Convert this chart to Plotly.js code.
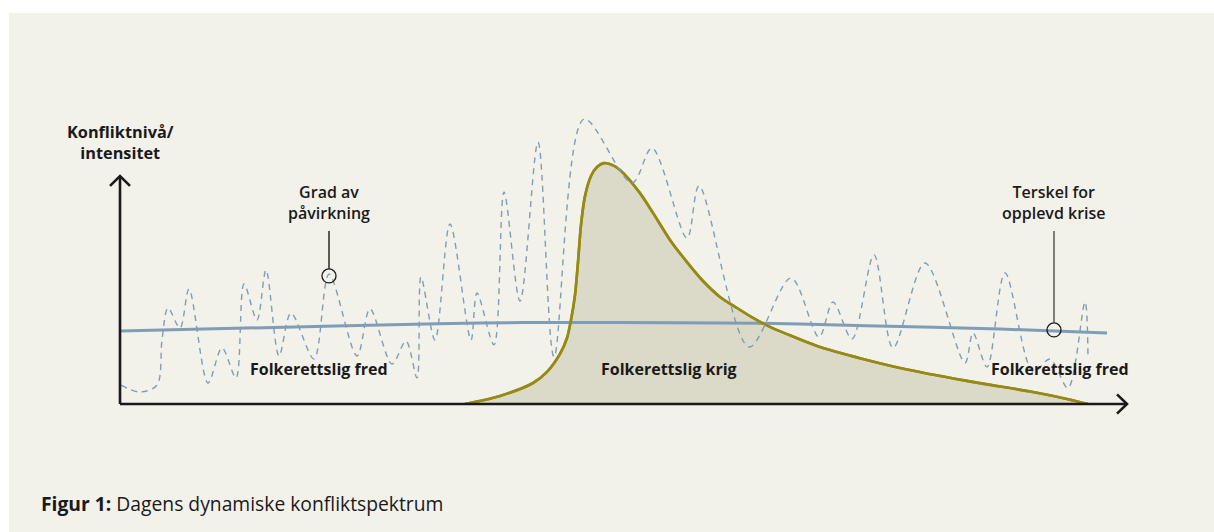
<!DOCTYPE html>
<html>
<head>
<meta charset="utf-8">
<script src="https://cdn.plot.ly/plotly-3.0.1.min.js"></script>
<style>
  html, body { margin: 0; padding: 0; background: #ffffff; }
  #chart { width: 1214px; height: 532px; }
</style>
</head>
<body>
<div id="chart"></div>
<script>
// ---- Data (conceptual time axis 0-100, intensity 0-100) ----
// Dashed line: "Grad av påvirkning" (degree of influence)
const influenceX = [0.1, 2.0, 3.7, 4.2, 4.8, 6.0, 6.9, 8.8, 10.2, 11.6, 12.4, 13.7, 14.6, 15.9, 17.1, 19.4, 20.9,
  23.7, 25.0, 27.2, 28.6, 29.7, 30.1, 31.5, 33.0, 35.1, 35.7, 37.4, 38.4, 40.0, 41.8, 43.4, 46.4, 51.2, 53.2,
  56.7, 57.9, 62.9, 67.1, 69.9, 71.3, 73.2, 75.4, 77.3, 80.5, 84.5, 85.3, 86.7, 88.5, 91.3, 93.0, 94.8, 96.5, 96.8];
const influenceY = [6.3, 4.0, 6.3, 21.3, 32.0, 25.3, 38.3, 7.0, 18.7, 8.7, 40.0, 28.0, 44.7, 16.0, 30.3, 15.0, 43.3,
  16.0, 31.7, 13.3, 21.0, 8.7, 42.3, 21.3, 60.0, 21.3, 37.0, 19.7, 70.7, 34.3, 87.3, 15.7, 95.0, 73.7, 85.3,
  55.3, 72.7, 19.0, 42.0, 22.3, 34.0, 21.7, 49.7, 18.7, 47.0, 13.7, 23.7, 12.3, 43.7, 10.7, 15.0, 5.3, 34.0, 15.3];

// Solid line: "Terskel for opplevd krise" (threshold for perceived crisis)
const thresholdX = [0, 21.5, 36, 50, 60, 68, 78, 88, 98.7];
const thresholdY = [24.3, 26.0, 27.0, 27.2, 27.0, 26.7, 25.8, 25.0, 23.7];

// Olive area: "Folkerettslig krig" (war under international law)
const warX = [34.5, 38.0, 41.3, 42.7, 44.0, 44.7, 45.1, 45.5, 45.8, 46.1, 46.5, 47.1, 47.7, 48.4, 49.2, 50.0,
  52.0, 53.3, 55.0, 56.7, 58.3, 60.0, 61.7, 63.3, 65.0, 66.7, 70.0, 74.3, 78.0, 84.7, 91.3, 94.7, 96.8];
const warY = [0, 2.7, 7.0, 10.7, 16.7, 22.0, 28.0, 36.3, 47.3, 59.7, 69.3, 76.0, 79.0, 80.3, 79.7, 78.0,
  70.3, 63.7, 54.7, 47.3, 41.0, 35.7, 32.0, 28.7, 25.7, 23.3, 19.0, 15.0, 12.0, 7.7, 4.0, 1.7, 0];

// Callout markers (on the lines) and texts
const calloutLabels = ["Grad av<br>påvirkning", "Terskel for<br>opplevd krise"];
const calloutX = [20.9, 93.4];
const calloutY = [42.7, 24.7];
const zoneLabels = ["Folkerettslig fred", "Folkerettslig krig", "Folkerettslig fred"];
const zoneX = [19.9, 54.9, 94.0];
const zoneY = 11.7;
const yAxisLabel = "Konfliktnivå/<br>intensitet";
const caption = "<b>Figur 1:</b> Dagens dynamiske konfliktspektrum";

// ---- Styles ----
const BG = '#f2f1ea';
const OLIVE = '#968a14';
const OLIVE_FILL = '#dbd9c7';
const BLUE = '#7f9db6';
const INK = '#1a1a1a';
const FONT = '"Open Sans", Lato, sans-serif';

const traces = [
  { x: warX, y: warY, type: 'scatter', mode: 'lines', fill: 'tozeroy', fillcolor: OLIVE_FILL,
    line: { color: OLIVE, width: 2.6, shape: 'spline', smoothing: 0.8 }, hoverinfo: 'skip' },
  { x: thresholdX, y: thresholdY, type: 'scatter', mode: 'lines',
    line: { color: BLUE, width: 3, shape: 'spline' }, hoverinfo: 'skip' },
  { x: warX, y: warY, type: 'scatter', mode: 'lines',
    line: { color: OLIVE, width: 2.6, shape: 'spline', smoothing: 0.8 }, hoverinfo: 'skip' },
  { x: influenceX, y: influenceY, type: 'scatter', mode: 'lines',
    line: { color: BLUE, width: 1.4, shape: 'spline', smoothing: 0.9, dash: '6px,5px' }, hoverinfo: 'skip' }
];

const shapes = [
  // beige panel
  { type: 'rect', xref: 'paper', yref: 'paper', x0: -0.111, x1: 1.2, y0: -0.6, y1: 1.303,
    fillcolor: BG, line: { width: 0 }, layer: 'below' },
  // x axis with arrow
  { type: 'line', xref: 'paper', yref: 'paper', x0: 0, x1: 1.007, y0: 0, y1: 0,
    line: { color: INK, width: 2.6 } },
  { type: 'path', xref: 'paper', yref: 'paper', path: 'M 0.997 0.032 L 1.007 0 L 0.997 -0.032',
    line: { color: INK, width: 2.6 } },
  // y axis with arrow
  { type: 'line', xref: 'paper', yref: 'paper', x0: 0, x1: 0, y0: 0, y1: 0.76,
    line: { color: INK, width: 2.6 } },
  { type: 'path', xref: 'paper', yref: 'paper', path: 'M -0.01 0.727 L 0 0.76 L 0.01 0.727',
    line: { color: INK, width: 2.6 } }
];
calloutX.forEach((cx, i) => {
  shapes.push({ type: 'circle', xref: 'x', yref: 'y', xsizemode: 'pixel', ysizemode: 'pixel',
    xanchor: cx, yanchor: calloutY[i], x0: -7, x1: 7, y0: -7, y1: 7,
    line: { color: INK, width: 1.3 }, fillcolor: 'rgba(0,0,0,0)' });
  shapes.push({ type: 'line', xref: 'x', yref: 'y', x0: cx, x1: cx,
    y0: calloutY[i] + 2.4, y1: 57.7, line: { color: i === 0 ? INK : '#4a4a4a', width: 1.4 } });
});

const annotations = [];
calloutLabels.forEach((t, i) => annotations.push({
  x: calloutX[i], y: 67.3, xref: 'x', yref: 'y', text: t, showarrow: false,
  font: { family: FONT, size: 16, color: INK, weight: 600 }, align: 'center'
}));
zoneLabels.forEach((t, i) => annotations.push({
  x: zoneX[i], y: zoneY, xref: 'x', yref: 'y', text: '<b>' + t + '</b>', showarrow: false,
  font: { family: FONT, size: 16, color: INK }, align: 'center'
}));
annotations.push({ x: 0, y: 87.3, xref: 'x', yref: 'y', text: '<b>' + yAxisLabel + '</b>', showarrow: false,
  font: { family: FONT, size: 16.3, color: INK }, align: 'center' });
annotations.push({ x: -0.081, y: -0.333, xref: 'paper', yref: 'paper', xanchor: 'left', yanchor: 'middle',
  text: caption, showarrow: false, font: { family: FONT, size: 19.3, color: INK }, align: 'left' });

const layout = {
  width: 1214, height: 532,
  margin: { l: 120, r: 94, t: 104, b: 128 },
  paper_bgcolor: '#ffffff', plot_bgcolor: 'rgba(0,0,0,0)',
  showlegend: false,
  xaxis: { range: [0, 100], visible: false, fixedrange: true },
  yaxis: { range: [0, 100], visible: false, fixedrange: true },
  shapes: shapes, annotations: annotations,
  hovermode: false
};

Plotly.newPlot('chart', traces, layout, { staticPlot: true, displayModeBar: false });
</script>
</body>
</html>
